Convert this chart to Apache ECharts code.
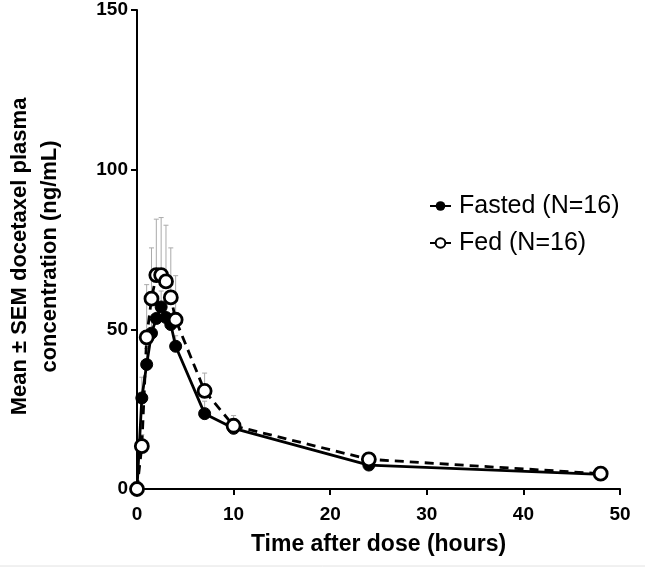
<!DOCTYPE html>
<html><head><meta charset="utf-8">
<script src="https://cdn.jsdelivr.net/npm/echarts@6/dist/echarts.min.js"></script>
<style>html,body{margin:0;padding:0;background:#fff}#c{width:645px;height:573px}</style>
</head><body><div id="c"></div>
<script>
const times = [0, 0.5, 1, 1.5, 2, 2.5, 3, 3.5, 4, 7, 10, 24, 48];
const fastedMean = [0, 28.5, 39, 48.8, 53.4, 57, 53.7, 51.5, 44.7, 23.6, 19, 7.5, 4.6];
const fastedUpper = [0, 35, 44, 53, 58, 62, 58, 55, 48, 27.5, 21, 8.5, 5.2];
const fedMean = [0, 13.4, 47.5, 59.6, 67, 67, 65, 60, 53, 30.7, 19.8, 9.3, 4.8];
const fedUpper = [0, 17, 64, 75.5, 84.5, 85, 82.6, 75.5, 66.8, 36.3, 23, 10.2, 5.3];
const xTicks = [0, 10, 20, 30, 40, 50];
const yTicks = [0, 50, 100, 150];

const pairs = (xs, ys) => xs.map((x, i) => [x, ys[i]]);
const errData = (mean, up) => times.map((t, i) => [t, mean[i], up[i]]);

function errRender(params, api) {
  const x = api.value(0);
  const lo = api.coord([x, api.value(1)]);
  const hi = api.coord([x, api.value(2)]);
  if (Math.abs(lo[1] - hi[1]) < 1) return null;
  const st = { stroke: '#aaaaaa', lineWidth: 1 };
  return { type: 'group', children: [
    { type: 'line', shape: { x1: lo[0], y1: lo[1], x2: hi[0], y2: hi[1] }, style: st },
    { type: 'line', shape: { x1: hi[0] - 2.5, y1: hi[1], x2: hi[0] + 2.5, y2: hi[1] }, style: st }
  ]};
}

const FONT = '"Liberation Sans", Arial, Helvetica, sans-serif';
const chart = echarts.init(document.getElementById('c'), null, { renderer: 'canvas' });
const boldText = { fontFamily: FONT, fontWeight: 'bold', color: '#000' };
chart.setOption({
  animation: false,
  backgroundColor: '#fff',
  grid: { left: 137, right: 25, top: 10, bottom: 84, containLabel: false, outerBoundsMode: 'none' },
  graphic: [{ type: 'line', shape: { x1: 0, y1: 566, x2: 645, y2: 566 }, style: { stroke: '#e2e2e2', lineWidth: 1 }, silent: true }],
  legend: {
    left: 424, top: 188, orient: 'vertical', itemGap: 11, itemWidth: 21, itemHeight: 12,
    textStyle: { fontFamily: FONT, fontSize: 25, lineHeight: 26, color: '#000', padding: [0, 0, 0, 3] },
    data: ['Fasted (N=16)', 'Fed (N=16)']
  },
  xAxis: {
    type: 'value', min: 0, max: 50, interval: 10,
    name: 'Time after dose (hours)', nameLocation: 'middle', nameGap: 44,
    nameTextStyle: Object.assign({ fontSize: 23 }, boldText),
    axisLine: { show: true, lineStyle: { color: '#000', width: 2 } },
    axisTick: { show: true, length: 6, lineStyle: { color: '#000', width: 2 } },
    axisLabel: Object.assign({ fontSize: 19, margin: 16, formatter: v => xTicks.includes(v) ? String(v) : '' }, boldText),
    splitLine: { show: false }
  },
  yAxis: {
    type: 'value', min: 0, max: 150, interval: 50,
    name: 'Mean \u00b1 SEM docetaxel plasma\nconcentration (ng/mL)', nameLocation: 'middle', nameGap: 72,
    nameTextStyle: Object.assign({ fontSize: 22, lineHeight: 30, padding: [0, 14, 0, 0] }, boldText),
    axisLine: { show: true, lineStyle: { color: '#000', width: 2 } },
    axisTick: { show: true, length: 6, lineStyle: { color: '#000', width: 2 } },
    axisLabel: Object.assign({ fontSize: 19, margin: 9, formatter: v => yTicks.includes(v) ? String(v) : '' }, boldText),
    splitLine: { show: false }
  },
  series: [
    { type: 'custom', name: 'fedErr', data: errData(fedMean, fedUpper), renderItem: errRender, z: 1, silent: true, encode: { x: 0, y: [1, 2] } },
    { type: 'custom', name: 'fastErr', data: errData(fastedMean, fastedUpper), renderItem: errRender, z: 1, silent: true, encode: { x: 0, y: [1, 2] } },
    { type: 'line', name: 'Fasted (N=16)', data: pairs(times, fastedMean), z: 3,
      symbol: 'circle', symbolSize: 12,
      lineStyle: { color: '#000', width: 2.8 },
      itemStyle: { color: '#000', borderColor: '#000' } },
    { type: 'line', name: 'Fed (N=16)', data: pairs(times, fedMean), z: 4,
      symbol: 'circle', symbolSize: 13,
      lineStyle: { color: '#000', width: 2.8, type: [9, 6] },
      itemStyle: { color: '#fff', borderColor: '#000', borderWidth: 2.8 } }
  ]
});
</script></body></html>
